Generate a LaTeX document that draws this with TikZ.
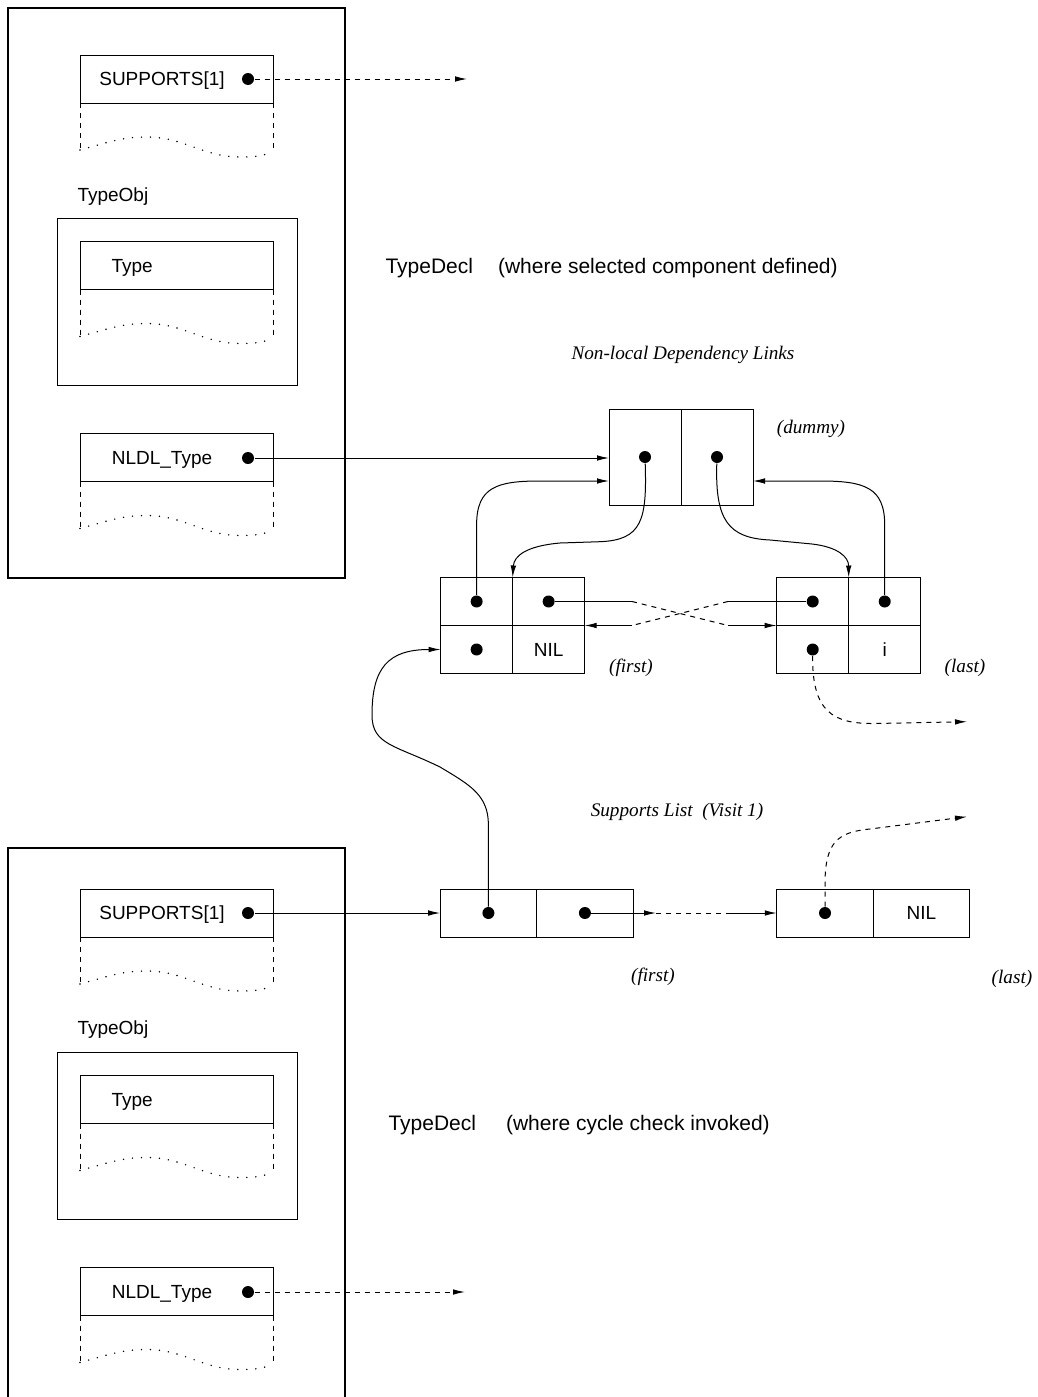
\documentclass[tikz,border=0pt]{standalone}
\usepackage{fontspec}
\setmainfont{Liberation Serif}
\setsansfont{Liberation Sans}
\usepackage{tikz}
\usetikzlibrary{calc}
\usetikzlibrary{positioning}
\usetikzlibrary{arrows.meta}
\tikzset{>={Latex[length=6pt,width=2.8pt]}}
\tikzset{
  field/.style={draw,minimum width=96.5pt,minimum height=24pt,inner sep=0pt,outer sep=0pt},
  cell/.style={draw,minimum width=36pt,minimum height=24pt,inner sep=0pt,outer sep=0pt,
    text height=6.8pt,text depth=0pt,font=\sffamily\fontsize{9.5}{11}\selectfont},
  lcell/.style={cell,minimum width=48.25pt},
  ptr/.style={circle,fill,inner sep=0pt,minimum size=6pt},
  txt/.style={font=\sffamily\fontsize{9.5}{11}\selectfont,inner sep=0pt,text height=6.8pt,text depth=0pt},
  big/.style={font=\sffamily\fontsize{10.5}{12}\selectfont,inner sep=0pt,anchor=west,text height=7.5pt,text depth=0pt},
  note/.style={font=\itshape\fontsize{9.6}{11}\selectfont,inner sep=0pt},
  ghost/.style={dash pattern=on 2.5pt off 2.5pt},
  dots/.style={line width=0.8pt,dash pattern=on 0pt off 4.5pt,line cap=round},
  declbox/.style={line width=1.1pt}
}
% torn-off rest of a record below a field
\newcommand{\torn}[1]{%
  \draw[ghost] (#1.south west) -- ++(0,47);
  \draw[ghost] (#1.south east) -- ++(0,49);
  \draw[dots] ($(#1.south west)+(0,47)$) to[out=15,in=180] ++(67,-13)
    to[out=0,in=180] ++(93,20) to[out=0,in=200] ++(33,-5);
}

\begin{document}
\begin{tikzpicture}[x=0.5pt,y=-0.5pt,line width=0.5pt]
  \useasboundingbox (0,0) rectangle (1038,1397);

  % upper TypeDecl
  \draw[declbox] (8,8) rectangle (345,578);
  \node[field] (supA) at (176.5,79) {};
  \node[txt] (supAtxt) at (162,79) {SUPPORTS[1]};
  \node[ptr] (supAdot) at (248,79) {};
  \torn{supA}
  \node[txt,anchor=west] (objAtxt) at (77,195) {TypeObj};
  \node[field,minimum width=120pt,minimum height=83.5pt] (objA) at (177,301.5) {};
  \node[field] (typeA) at (176.5,265.5) {};
  \node[txt,anchor=west] (typeAtxt) at (111,266) {Type};
  \torn{typeA}
  \node[field] (nldlA) at (176.5,457.5) {};
  \node[txt] (nldlAtxt) at (162,458) {NLDL\_Type};
  \node[ptr] (nldlAdot) at (248,458) {};
  \torn{nldlA}
  \node[big] (declAtxt) at (385,266) {TypeDecl\hspace{12.5pt}(where selected component defined)};

  % dependency links
  \node[note] (nldTitle) at (683,355) {Non-local Dependency Links};
  \node[cell,minimum height=48pt] (dum1) at (645,457) {};
  \node[cell,minimum height=48pt,right=0pt of dum1] (dum2) {};
  \node[ptr] (dum1dot) at (dum1) {};
  \node[ptr] (dum2dot) at (dum2) {};
  \node[note] (dumTxt) at (811,429) {(dummy)};

  \node[cell] (f1) at (476.6,601.5) {};
  \node[cell,right=0pt of f1] (f2) {};
  \node[cell,below=0pt of f1] (f3) {};
  \node[cell,right=0pt of f3] (f4) {NIL};
  \node[ptr] (f1dot) at (f1) {};
  \node[ptr] (f2dot) at (f2) {};
  \node[ptr] (f3dot) at (f3) {};
  \node[note] (fTxt) at (631,668) {(first)};

  \node[cell] (l1) at (812.7,601.5) {};
  \node[cell,right=0pt of l1] (l2) {};
  \node[cell,below=0pt of l1] (l3) {};
  \node[cell,right=0pt of l3] (l4) {i};
  \node[ptr] (l1dot) at (l1) {};
  \node[ptr] (l2dot) at (l2) {};
  \node[ptr] (l3dot) at (l3) {};
  \node[note] (lTxt) at (965,668) {(last)};

  % supports list
  \node[note] (supTitle) at (677,812) {Supports List~ (Visit 1)};
  \node[lcell] (s1) at (488.4,913) {};
  \node[lcell,right=0pt of s1] (s2) {};
  \node[lcell] (s3) at (825,913) {};
  \node[lcell,right=0pt of s3] (s4) {NIL};
  \node[ptr] (s1dot) at (s1) {};
  \node[ptr] (s2dot) at (s2) {};
  \node[ptr] (s3dot) at (s3) {};
  \node[note] (sfTxt) at (653,977) {(first)};
  \node[note] (slTxt) at (1012,979) {(last)};

  % lower TypeDecl
  \draw[declbox] (8,1400) |- (345,848) -- (345,1400);
  \node[field] (supB) at (176.5,913) {};
  \node[txt] (supBtxt) at (162,913) {SUPPORTS[1]};
  \node[ptr] (supBdot) at (248,913) {};
  \torn{supB}
  \node[txt,anchor=west] (objBtxt) at (77,1028) {TypeObj};
  \node[field,minimum width=120pt,minimum height=83.5pt] (objB) at (177,1135.5) {};
  \node[field] (typeB) at (176.5,1099.5) {};
  \node[txt,anchor=west] (typeBtxt) at (111,1100) {Type};
  \torn{typeB}
  \node[field] (nldlB) at (176.5,1291.5) {};
  \node[txt] (nldlBtxt) at (162,1292) {NLDL\_Type};
  \node[ptr] (nldlBdot) at (248,1292) {};
  \torn{nldlB}
  \node[big] (declBtxt) at (388,1123) {TypeDecl\hspace{15pt}(where cycle check invoked)};

  % connectors
  \coordinate (supAend) at (467,79);
  \draw[ghost,->] (supAdot) -- (supAend);
  \draw[->] (nldlAdot) -- (nldlAdot -| dum1.west);
  \draw[->] (f1dot) -- (476.6,525) .. controls (476.6,487) and (497,481) .. (540,481) -- ([yshift=-12pt]dum1.west);
  \draw[->] (l2dot) -- (884.7,525) .. controls (884.7,487) and (864,481) .. (820,481) -- ([yshift=-12pt]dum2.east);
  \draw[->] (dum1dot) .. controls (647,520) and (642,540) .. (600,541.7) -- (560,543) .. controls (526,546) and (514,556) .. (f2.north west);
  \draw[->] (dum2dot) .. controls (715,520) and (728,538) .. (770,540) -- (812,544) .. controls (838,547) and (848.6,557) .. (l2.north west);

  \coordinate (xa) at (632,601.5);
  \coordinate (xb) at (728,625.5);
  \coordinate (xc) at (728,601.5);
  \coordinate (xd) at (632,625.5);
  \draw (f2dot) -- (xa);
  \draw[ghost] (xa) -- (xb);
  \draw[->] (xb) -- (l1.south west);
  \draw (l1dot) -- (xc);
  \draw[ghost] (xc) -- (xd);
  \draw[->] (xd) -- (f2.south east);

  \coordinate (lout) at (967,721.7);
  \draw[ghost,->] (l3dot) .. controls (812,712) and (833,724) .. (875,723.5) -- (lout);

  \draw[->] (s1dot) -- (488.4,825) .. controls (488.4,795) and (470,785) .. (440,767) .. controls (395,745) and (372,745) .. (372,715) .. controls (372,668) and (388,649.5) .. (f3.west);
  \draw[->] (supBdot) -- (s1.west);
  \coordinate (sa) at (656,913);
  \coordinate (sb) at (731,913);
  \draw[->] (s2dot) -- (sa);
  \draw[ghost] (sa) -- (sb);
  \draw[->] (sb) -- (s3.west);
  \coordinate (sout) at (967,816.7);
  \draw[ghost,->] (s3dot) -- (825,880) .. controls (826,842) and (838,832) .. (870,829) -- (sout);

  \coordinate (nldlBend) at (465,1292);
  \draw[ghost,->] (nldlBdot) -- (nldlBend);
\end{tikzpicture}
\end{document}
